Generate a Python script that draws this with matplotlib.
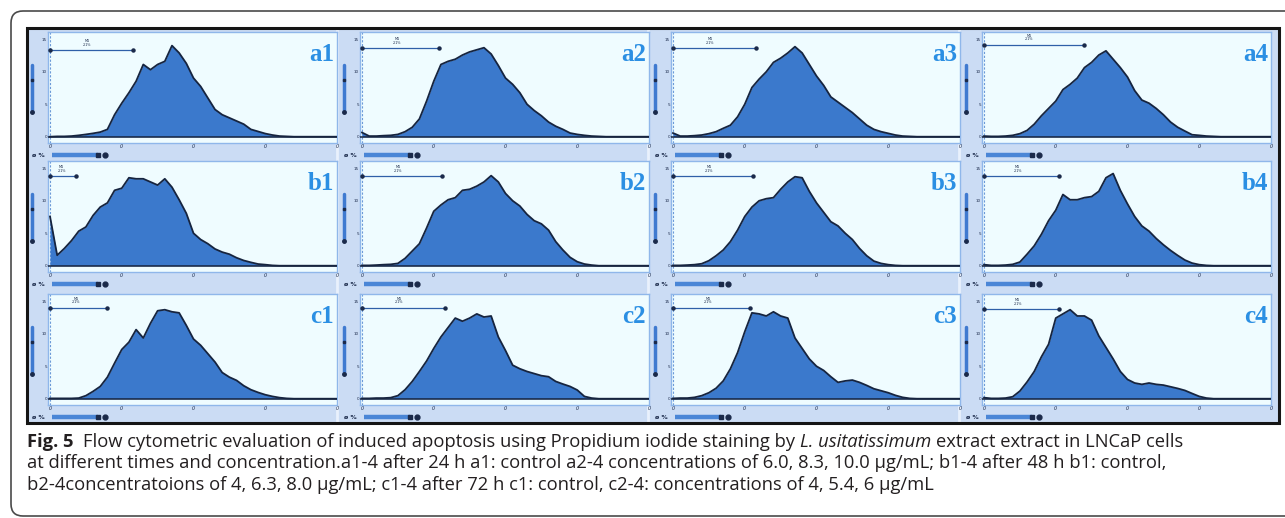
import matplotlib
matplotlib.use("Agg")
import matplotlib.pyplot as plt
from matplotlib.patches import Rectangle, FancyBboxPatch
from matplotlib import font_manager
from matplotlib.font_manager import FontProperties

W, H = 1285, 518

# ---------------- data ----------------
channel = [0, 25, 50, 75, 100, 125, 150, 175, 200, 225, 250, 275, 300, 325, 350,
           375, 400, 425, 450, 475, 500, 525, 550, 575, 600, 625, 650, 675, 700,
           725, 750, 775, 800, 825, 850, 875, 900, 925, 950, 975, 1000]

panel_labels = [["a1", "a2", "a3", "a4"],
                ["b1", "b2", "b3", "b4"],
                ["c1", "c2", "c3", "c4"]]

a1 = [0, 0.3, 0.3, 0.6, 1.3, 2.2, 3.2, 4.4, 7, 21, 32, 42, 53, 69, 64, 69, 72, 87, 80, 70,
      56, 48, 37, 26, 21, 18, 15, 12, 7, 5, 3, 1.6, 0.6, 0.3, 0, 0, 0, 0, 0, 0, 0]
a2 = [4, 0.6, 0.6, 1, 1.3, 2.2, 4.8, 9, 17, 34, 53, 69, 72, 74, 78, 81, 83, 85, 79, 68,
      56, 50, 42, 31, 25, 20, 14, 10, 7, 3.5, 2.2, 1.3, 0.6, 0.3, 0, 0, 0, 0, 0, 0, 0]
a3 = [3.5, 0.6, 0.6, 1, 1.6, 2.9, 4.8, 8, 11, 19, 31, 47, 55, 62, 71, 75, 80, 86, 80, 69,
      58, 49, 38, 33, 28, 23, 17, 11, 7, 4.8, 3.2, 1.6, 0.6, 0.3, 0, 0, 0, 0, 0, 0, 0]
a4 = [0.6, 0.3, 0.3, 0.6, 1.3, 2.9, 6, 12, 20, 27, 34, 45, 50, 56, 66, 71, 78, 82, 74, 66,
      57, 44, 35, 32, 27, 21, 14, 9, 5.4, 1.9, 1.3, 0.6, 0.3, 0, 0, 0, 0, 0, 0, 0, 0]
b1 = [47, 10, 16.5, 24, 33, 37, 48, 56, 60, 72, 74, 84, 83, 83, 80, 77, 83, 75, 63, 50,
      31, 25, 21, 16, 13, 11, 7.6, 5, 3.2, 1.6, 1, 0.3, 0, 0, 0, 0, 0, 0, 0, 0, 0]
b2 = [0.3, 0.3, 0.6, 1, 1.3, 2.2, 7, 14, 21, 36, 52, 58, 63, 65, 72, 73, 76, 80, 86, 80,
      69, 62, 57, 49, 43, 40, 34, 23, 15, 8, 3.8, 1.6, 0.6, 0, 0, 0, 0, 0, 0, 0, 0]
b3 = [0.3, 0.3, 0.6, 1, 1.9, 4.8, 9.5, 15, 23, 34, 47, 56, 62, 64, 65, 73, 80, 85, 84, 71,
      60, 51, 42, 38, 31, 25, 16.5, 9.5, 4.4, 2.2, 1, 0.3, 0, 0, 0, 0, 0, 0, 0, 0, 0]
b4 = [1, 0.3, 0.3, 0.6, 1.3, 3.5, 11, 19, 30, 43, 53, 68, 63, 63, 65, 66, 71, 84, 88, 72,
      59, 47, 38, 33, 26, 20, 14.6, 9.8, 5.4, 2.5, 1, 0.3, 0, 0, 0, 0, 0, 0, 0, 0, 0]
c1 = [0.3, 0.3, 0.3, 0.3, 0.6, 2.9, 7, 11.7, 20.6, 34, 47, 54, 66, 58, 72, 84, 85, 83, 82, 70,
      57, 51, 43, 35, 25, 20.6, 17.5, 12.4, 8.6, 6, 3.8, 2.2, 1, 0.3, 0, 0, 0, 0, 0, 0, 0]
c2 = [0.3, 0.3, 0.6, 0.6, 1, 2.9, 8.6, 16.5, 26, 36, 48, 59, 68, 77, 74, 77, 81, 78, 79, 59,
      46, 32, 28.6, 26, 24, 22, 21, 16.5, 14, 11.7, 8.3, 2.2, 0.6, 0, 0, 0, 0, 0, 0, 0, 0]
c3 = [0.3, 0.6, 0.6, 1.3, 2.9, 5.7, 10, 17, 28.6, 44, 64, 82, 81, 79, 83, 79, 77, 58, 48, 38,
      31, 27, 21, 15.6, 17, 17.8, 15.6, 12.7, 9.5, 7.6, 5.7, 3.2, 1.3, 0.3, 0, 0, 0, 0, 0, 0, 0]
c4 = [1, 0.3, 0.3, 0.6, 1.9, 7.3, 16, 26, 40, 52, 77, 81, 85, 79, 79, 75, 60, 49, 38, 26,
      18.4, 15, 13.7, 15, 13.7, 13, 11.4, 9.8, 7.9, 5, 2.2, 0.6, 0, 0, 0, 0, 0, 0, 0, 0, 0]

counts = {"a1": a1, "a2": a2, "a3": a3, "a4": a4,
          "b1": b1, "b2": b2, "b3": b3, "b4": b4,
          "c1": c1, "c2": c2, "c3": c3, "c4": c4}

gate_end = {"a1": 290, "a2": 270, "a3": 290, "a4": 350,
            "b1": 90, "b2": 280, "b3": 280, "b4": 260,
            "c1": 200, "c2": 290, "c3": 270, "c4": 260}
gate_level = {"a1": 83, "a2": 85, "a3": 85, "a4": 88,
              "b1": 86, "b2": 86, "b3": 86, "b4": 86,
              "c1": 87, "c2": 87, "c3": 87, "c4": 86}

x_ticks = [0, 250, 500, 750, 1000]
x_tick_labels = ["0", "0", "0", "0", "0"]
y_ticks = [0, 31, 62, 93]
y_tick_labels = ["0", "5", "10", "15"]

caption_line1 = [("Fig. 5", "bold", "normal"),
                 ("Flow cytometric evaluation of induced apoptosis using Propidium iodide staining by",
                  "normal", "normal"),
                 ("L. usitatissimum", "normal", "italic"),
                 ("extract extract in LNCaP cells", "normal", "normal")]
caption_line2 = ("at different times and concentration.a1-4 after 24 h a1: control a2-4 "
                 "concentrations of 6.0, 8.3, 10.0 µg/mL; b1-4 after 48 h b1: control,")
caption_line3 = ("b2-4concentratoions of 4, 6.3, 8.0 µg/mL; c1-4 after 72 h c1: control, "
                 "c2-4: concentrations of 4, 5.4, 6 µg/mL")

# ---------------- style / layout ----------------
FRAME_BG = "#cbdcf4"
PLOT_BG = "#effcff"
FILL = "#3b79cc"
EDGE = "#16243f"
LABEL_C = "#2b8fe3"
DARK = "#1b2a4a"

col_left = [48, 360, 671, 982]
row_top = [32, 161, 294]
panel_w, panel_h = 289, 111

fig = plt.figure(figsize=(W / 100, H / 100), dpi=100)

bg = fig.add_axes([0, 0, 1, 1])
bg.set_xlim(0, W)
bg.set_ylim(H, 0)
bg.axis("off")

bg.add_patch(FancyBboxPatch((11, 11), 1300 - 11, 516 - 11,
                            boxstyle="round,pad=0,rounding_size=12",
                            ec="#4a4a4a", fc="white", lw=1.2, zorder=0))
bg.add_patch(Rectangle((27, 28), 1252, 395, fc=FRAME_BG, ec="none", zorder=1))

for c, cl in enumerate(col_left):
    if c > 0:
        bg.plot([cl - 23, cl - 23], [28, 423], color="#e9f1fc", lw=2, zorder=2)
    for r, rt in enumerate(row_top):
        ys = rt + panel_h + 12
        bg.text(cl - 16, ys, "ø %", fontsize=4.5, color=DARK, fontweight="bold",
                ha="left", va="center", zorder=3)
        bg.plot([cl + 4, cl + 50], [ys, ys], color="#4a86d6", lw=3.2,
                solid_capstyle="butt", zorder=3)
        bg.plot([cl + 50], [ys], marker="s", ms=2.5, color=DARK, zorder=4)
        bg.plot([cl + 57], [ys], marker="o", ms=3.5, color=DARK, zorder=4)
        yx = cl - 16
        bg.plot([yx, yx], [rt + 33, rt + 80], color="#3f7ad0", lw=2.5,
                solid_capstyle="round", zorder=3)
        bg.plot([yx], [rt + 80], marker="o", ms=2.5, color=DARK, zorder=4)
        bg.plot([yx], [rt + 48], marker="s", ms=1.5, color=DARK, zorder=4)

bg.add_patch(Rectangle((27, 28), 1252, 395, fc="none", ec="#151515", lw=2.2, zorder=5))

for r in range(3):
    for c in range(4):
        lab = panel_labels[r][c]
        x0, y0 = col_left[c], row_top[r]
        ax = fig.add_axes([x0 / W, 1 - (y0 + panel_h) / H, panel_w / W, panel_h / H])
        ax.set_facecolor(PLOT_BG)
        ax.set_xlim(-7, 1000)
        ax.set_ylim(-6, 100)
        vals = counts[lab]
        ax.fill_between(channel, vals, 0, color=FILL, lw=0, zorder=2)
        ax.plot(channel, vals, color=EDGE, lw=1.3, zorder=3)
        ax.axhline(0, color=EDGE, lw=1.1, zorder=3)
        ax.axvline(0, color="#6c9ad8", lw=0.8, ls=(0, (2, 1.5)), zorder=1)
        g = gate_level[lab]
        ax.plot([0, gate_end[lab]], [g, g], color="#2f5fa8", lw=0.9, zorder=4)
        ax.plot([0, gate_end[lab]], [g, g], ls="none", marker="o", ms=2.2,
                color=DARK, zorder=5)
        ax.text(gate_end[lab] * 0.45, g + 3, "M1\n2.1%", fontsize=2.4, color=DARK,
                ha="center", va="bottom", linespacing=0.9, zorder=5)
        ax.text(0.99, 0.9, lab, transform=ax.transAxes, ha="right", va="top",
                fontsize=18, fontweight="bold", family="Liberation Serif",
                color=LABEL_C, zorder=6)
        ax.set_xticks(x_ticks)
        ax.set_xticklabels(x_tick_labels, fontsize=3.5, color=DARK, style="italic")
        ax.set_yticks(y_ticks)
        ax.set_yticklabels(y_tick_labels, fontsize=3, color=DARK)
        ax.tick_params(length=0, pad=0.8)
        for s in ax.spines.values():
            s.set_color("#8fb7ea")
            s.set_linewidth(1.0)

# ---------------- caption ----------------
fig.canvas.draw()
rend = fig.canvas.get_renderer()


def width_of(s, **kw):
    t = fig.text(0, 0, s, **kw)
    w = t.get_window_extent(renderer=rend).width
    t.remove()
    return w


def has_bold(fam):
    try:
        reg = font_manager.findfont(FontProperties(family=fam, weight="normal"),
                                    fallback_to_default=False)
        bld = font_manager.findfont(FontProperties(family=fam, weight="bold"),
                                    fallback_to_default=False)
        return reg != bld
    except Exception:
        return False


cands = [("Open Sans", 0.714), ("Lato", 0.72), ("Roboto", 0.711), ("Noto Sans", 0.714),
         ("Liberation Sans Narrow", 0.716), ("Liberation Sans", 0.716)]
avail = {f.name for f in font_manager.fontManager.ttflist}
best = None
for fam, capr in cands:
    if fam not in avail or not has_bold(fam):
        continue
    base = 10
    total = 0
    for i, (s, wgt, sty) in enumerate(caption_line1):
        total += width_of(s, fontsize=base, family=fam, fontweight=wgt, style=sty)
    sp = width_of("a a", fontsize=base, family=fam) - width_of("aa", fontsize=base, family=fam)
    total += sp * 4
    size = base * 1163 / total
    cap = size * 100 / 72 * capr
    score = abs(cap - 11)
    if best is None or score < best[0]:
        best = (score, fam, size)

if best is None:
    best = (0, "DejaVu Sans", 10)
_, FAM, FS = best
TXT = "#231f20"
sp = width_of("a a", fontsize=FS, family=FAM) - width_of("aa", fontsize=FS, family=FAM)
x = 27.0
for i, (s, wgt, sty) in enumerate(caption_line1):
    fig.text(x / W, 1 - 447 / H, s, fontsize=FS, family=FAM, fontweight=wgt, style=sty,
             color=TXT, va="baseline", ha="left")
    x += width_of(s, fontsize=FS, family=FAM, fontweight=wgt, style=sty)
    x += sp * (2 if i == 0 else 1)
fig.text(27 / W, 1 - 468.5 / H, caption_line2, fontsize=FS, family=FAM, color=TXT,
         va="baseline", ha="left")
fig.text(27 / W, 1 - 490 / H, caption_line3, fontsize=FS, family=FAM, color=TXT,
         va="baseline", ha="left")

fig.savefig("out.png", dpi=100)
